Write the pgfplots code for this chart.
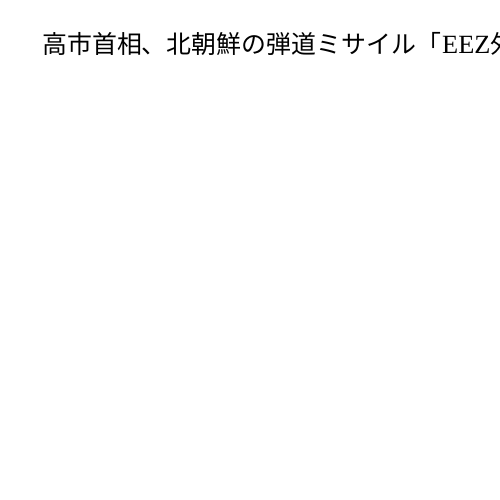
\documentclass[border=0pt]{standalone}
\usepackage{pgfplots}
\pgfplotsset{compat=1.18}
\usepackage{fontspec}
\setmainfont{Liberation Serif}
\newfontfamily\cjk{Noto Sans CJK JP}
\begin{document}
\begin{tikzpicture}[x=0.01in,y=0.01in]
\useasboundingbox (0,0) rectangle (500,500);
\clip (0,0) rectangle (500,500);
\fill[white] (0,0) rectangle (500,500);
\begin{axis}[at={(50,50)}, anchor=south west, width=4in, height=3.5in, hide axis, xmin=0, xmax=1, ymin=0, ymax=1]
\addplot[draw=none] coordinates {(0,0)};
\end{axis}
\node[anchor=west, inner sep=0pt, font=\fontsize{18pt}{20pt}\selectfont] at (42,456) {\cjk 高市首相、北朝鮮の弾道ミサイル「\kern0.05em\rmfamily\fontsize{19pt}{20pt}\selectfont EEZ\cjk\fontsize{18pt}{20pt}\selectfont 外」};
\end{tikzpicture}
\end{document}
